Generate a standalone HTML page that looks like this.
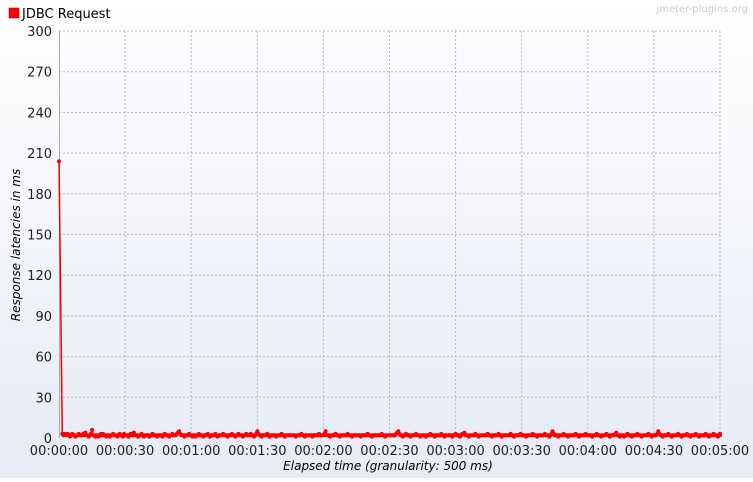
<!DOCTYPE html>
<html><head><meta charset="utf-8"><style>
html,body{margin:0;padding:0;}
body{width:753px;height:478px;overflow:hidden;background:linear-gradient(#ffffff,#e6ebf5);font-family:"DejaVu Sans","Liberation Sans",sans-serif;}
</style></head><body>
<svg id="chart" width="753" height="478" xmlns="http://www.w3.org/2000/svg" font-family="DejaVu Sans, Liberation Sans, sans-serif">
<defs><linearGradient id="pg" x1="0" y1="0" x2="0" y2="1"><stop offset="0" stop-color="#fbfcfe"/><stop offset="1" stop-color="#e8ecf6"/></linearGradient></defs>
<rect x="59" y="31" width="661" height="407" fill="url(#pg)"/>
<g id="grid"></g><g id="axes"></g><g id="series"></g>
<rect x="9" y="8" width="10" height="10" fill="#ff0000" stroke="#800" stroke-width="0.5"/>
<text x="22" y="18" font-size="13" fill="#000">JDBC Request</text>
<text x="748" y="12" font-size="10" fill="#ccc" text-anchor="end">jmeter-plugins.org</text>
<text x="388" y="470" font-size="12" font-style="italic" text-anchor="middle">Elapsed time (granularity: 500 ms)</text>
<text transform="translate(20,245) rotate(-90)" font-size="12" font-style="italic" text-anchor="middle">Response latencies in ms</text>
</svg>
<script>
const yTicks=[0,30,60,90,120,150,180,210,240,270,300];
const xTickLabels=["00:00:00","00:00:30","00:01:00","00:01:30","00:02:00","00:02:30","00:03:00","00:03:30","00:04:00","00:04:30","00:05:00"];
const xTickSeconds=[0,30,60,90,120,150,180,210,240,270,300];
const latencies=[
204,3,2,3,3,2,3,2,1,2,3,2,2,1,2,2,3,2,2,2,3,2,4,2,2,1,2,3,6,2,
2,1,2,2,1,2,3,2,3,2,2,1,2,2,1,2,2,3,2,2,2,1,2,3,2,2,1,3,2,2,
2,1,2,3,2,2,4,2,2,2,1,2,2,3,2,1,2,2,2,2,1,2,2,3,2,2,2,1,2,2,
2,2,1,2,3,2,2,2,1,2,2,3,2,2,2,3,4,5,3,2,2,2,1,2,2,2,3,2,2,1,
2,2,1,2,2,3,2,2,2,1,2,2,2,3,2,1,2,2,2,2,3,2,1,2,2,2,2,3,2,2,
2,1,2,2,2,3,2,2,1,2,2,3,2,2,2,1,2,2,3,2,2,2,3,2,2,1,2,3,5,3,
2,2,1,2,2,2,2,3,2,1,2,2,2,2,2,1,2,2,2,2,3,2,2,1,2,2,2,2,2,2,
2,2,2,1,2,2,2,2,3,2,2,1,2,2,2,2,2,2,1,2,2,2,2,2,3,2,2,2,2,3,
5,2,2,2,1,2,2,2,2,3,2,2,2,1,2,2,2,2,2,2,3,2,2,2,1,2,2,2,2,2,
2,2,1,2,2,2,2,2,3,2,2,2,1,2,2,2,2,2,2,2,2,3,2,2,1,2,2,2,2,2,
2,2,2,2,3,4,5,3,2,2,1,2,2,3,2,2,2,1,2,2,2,2,3,2,2,2,1,2,2,2,
2,1,2,2,2,3,2,2,2,1,2,2,2,2,2,3,2,2,1,2,2,2,2,2,2,1,2,2,3,2,
2,2,1,2,3,3,4,2,2,2,1,2,2,2,2,2,3,2,2,1,2,2,2,2,2,2,2,3,2,2,
2,1,2,2,2,2,2,3,2,2,1,2,2,2,2,2,2,2,3,2,2,1,2,2,2,2,2,3,2,2,
2,2,1,2,2,2,2,2,3,2,2,2,1,2,2,2,2,2,2,3,2,2,2,1,2,3,5,3,2,2,
2,1,2,2,2,2,3,2,2,2,1,2,2,2,2,2,2,3,2,2,1,2,2,2,2,2,3,2,2,2,
2,2,1,2,2,2,3,2,2,2,1,2,2,2,2,3,2,2,1,2,2,2,2,3,4,2,2,1,2,2,
2,1,2,2,3,2,2,2,1,2,2,2,2,3,2,2,2,1,2,2,2,2,2,3,2,2,1,2,2,2,
2,3,5,3,2,2,1,2,2,2,2,3,2,2,1,2,2,2,2,2,3,2,2,1,2,2,2,2,3,2,
2,1,2,2,2,2,3,2,2,1,2,2,2,2,2,3,2,2,1,2,2,2,3,2,2,2,1,2,3,2];
const stepSec=0.5;
const X0=59,X1=720,Y0=438,Y1=31,NS="http://www.w3.org/2000/svg";
const xs=s=>X0+(X1-X0)*s/300, ys=v=>Y0-(Y0-Y1)*v/300;
function mk(t,a,p){const e=document.createElementNS(NS,t);for(const k in a)e.setAttribute(k,a[k]);p.appendChild(e);return e;}
const grid=document.getElementById('grid'),axes=document.getElementById('axes'),ser=document.getElementById('series');
yTicks.forEach(v=>{
 const y=ys(v);
 if(v>0){const l=mk('line',{x1:X0,x2:X1,y1:y,y2:y,stroke:'#bbb','stroke-dasharray':'2,2'},grid);
 
 }
 const t=mk('text',{x:52,y:y+5,'font-size':13,'text-anchor':'end',fill:'#222'},axes);t.textContent=v;
 
 
});
xTickSeconds.forEach((s,i)=>{
 const x=xs(s);
 if(i>0){const l=mk('line',{x1:x,x2:x,y1:Y1,y2:Y0,stroke:'#bbb','stroke-dasharray':'2,2'},grid);
 
 }
 const t=mk('text',{x:x,y:455,'font-size':13,'text-anchor':'middle',fill:'#222'},axes);t.textContent=xTickLabels[i];
 
 
});
const ax=mk('line',{x1:X0+0.5,x2:X0+0.5,y1:Y1,y2:Y0,stroke:'#aaa'},axes);


const tx=i=>xs(Math.min(300,i*stepSec+(i?1:0)));
const pl=mk('polyline',{points:latencies.map((v,i)=>tx(i)+','+ys(v)).join(' '),fill:'none',stroke:'#ff0000','stroke-width':1.5},ser);


latencies.forEach((v,i)=>{
 const c=mk('circle',{cx:tx(i),cy:ys(v),r:2,fill:'#ff0000'},ser);
 
 
});
</script>
</body></html>
